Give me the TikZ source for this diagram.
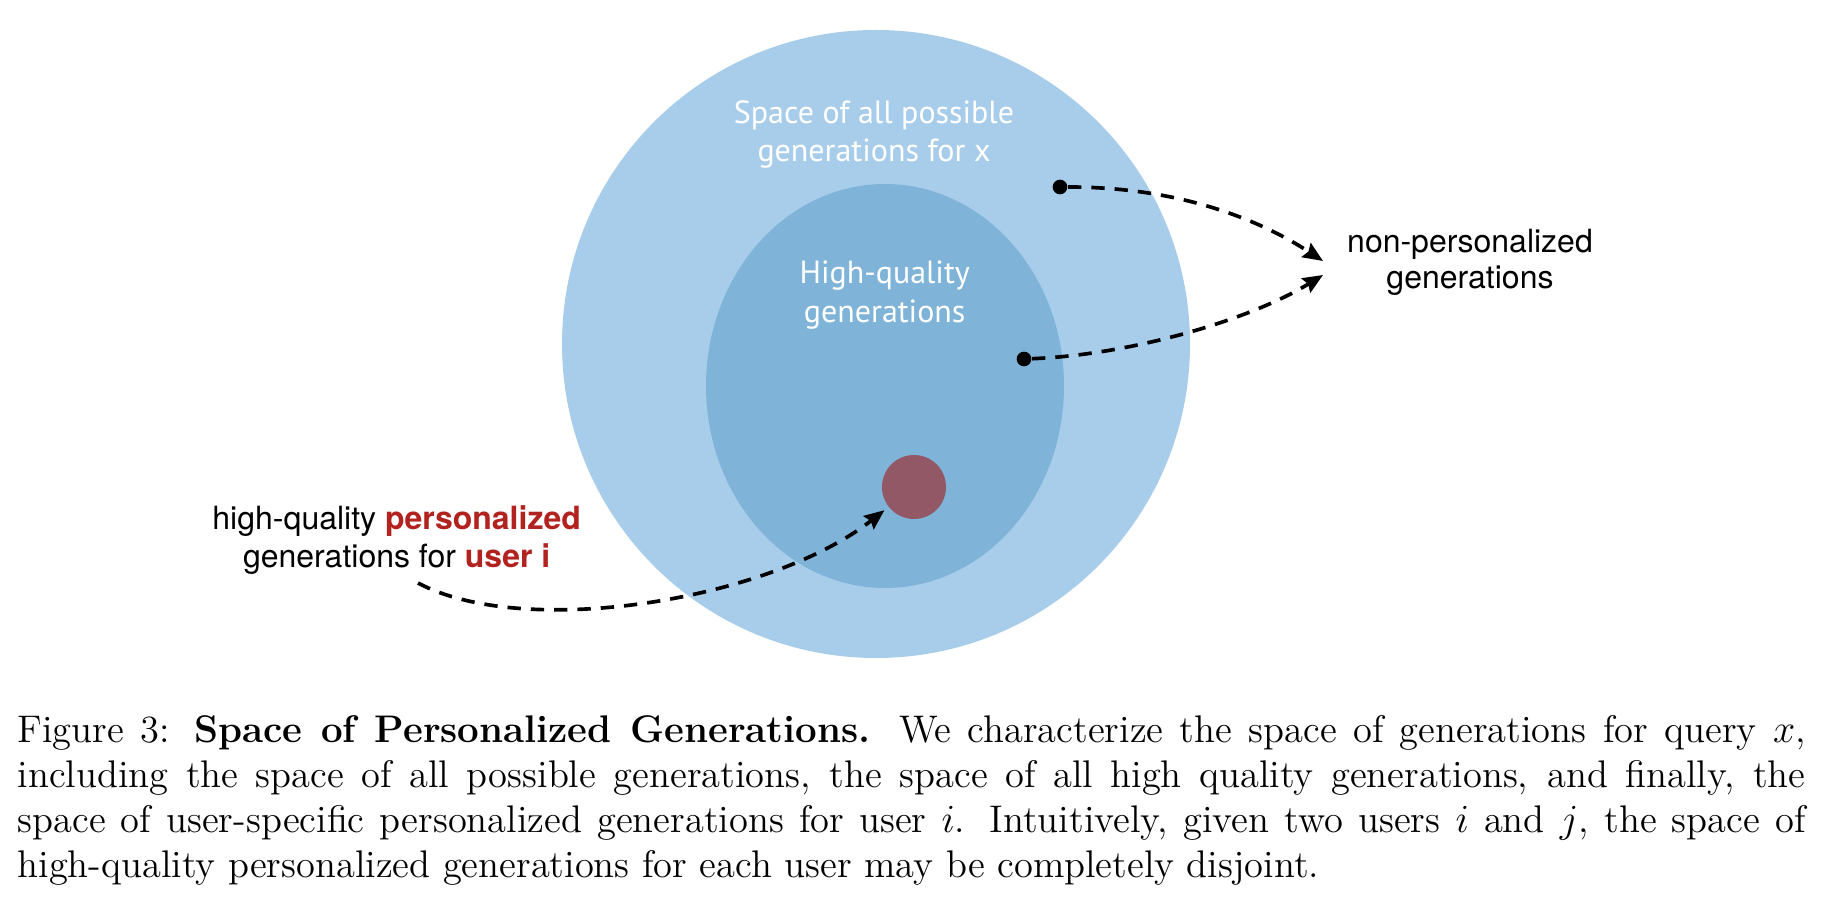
\documentclass[tikz,border=0pt]{standalone}
\usepackage{fontspec}
\newfontfamily\myriad{PT Sans}
\newfontfamily\helv{TeX Gyre Heros}
\usetikzlibrary{arrows.meta,shapes.geometric}
\definecolor{outerblue}{RGB}{168,205,235}
\definecolor{innerblue}{RGB}{127,179,216}
\definecolor{persred}{RGB}{147,88,102}
\definecolor{txtred}{RGB}{178,34,30}

\begin{document}
\begin{tikzpicture}[>={Stealth[length=6bp,width=5bp,inset=0.8bp]}, every node/.style={inner sep=0pt},
  inlbl/.style={anchor=base,text=white,font=\myriad\fontsize{9.6bp}{9.6bp}\selectfont},
  outlbl/.style={anchor=base,font=\helv\fontsize{9.6bp}{9.6bp}\selectfont},
  dot/.style={circle,fill=black,minimum size=4.4bp},
  dashto/.style={->,line width=1.1bp,dash pattern=on 4bp off 3bp}]
%%
  \useasboundingbox (0bp,0bp) rectangle (547.2bp,271.8bp);
  \node (all) at (262.8bp,168.6bp) [circle,fill=outerblue,minimum size=188.4bp] {};
  \node (hq) at (265.5bp,156.0bp) [ellipse,fill=innerblue,minimum width=107.4bp,minimum height=121.2bp] {};
  \node (pers) at (274.2bp,125.7bp) [circle,fill=persred,minimum size=19.2bp] {};
  \node (d1) at (318.0bp,215.7bp) [dot] {};
  \node (d2) at (307.2bp,164.1bp) [dot] {};
  \coordinate (np1) at (396.9bp,193.5bp);
  \coordinate (np2) at (396.9bp,189.3bp);
  \coordinate (hp) at (125.4bp,96.9bp);
  % labels
  \node (all1) at (262.2bp,234.6bp) [inlbl] {Space of all possible};
  \node (all2) at (262.2bp,223.2bp) [inlbl] {generations for x};
  \node (hq1) at (265.4bp,186.6bp) [inlbl] {High-quality};
  \node (hq2) at (265.4bp,174.9bp) [inlbl] {generations};
  \node (np1a) at (441.0bp,195.9bp) [outlbl] {non-personalized};
  \node (np1b) at (441.0bp,185.1bp) [outlbl] {generations};
  \node (hp1a) at (119.0bp,112.8bp) [outlbl] {high-quality \textcolor{txtred}{\bfseries personalized}};
  \node (hp1b) at (119.0bp,101.4bp) [outlbl] {generations for \textcolor{txtred}{\bfseries user i}};
  % arrows
  \draw [dashto] (d1) ..controls (354.0bp,215.7bp) and (378.0bp,205.8bp) .. (np1);
  \draw [dashto] (d2) ..controls (339.0bp,165.3bp) and (375.0bp,175.8bp) .. (np2);
  \draw [dashto,shorten >=1.5bp] (hp) ..controls (157.5bp,79.8bp) and (231.0bp,91.8bp) .. (pers);
  % caption
  \node (cap) at (5.1bp,49.0bp) [anchor=base west,text width=536.4bp,align=justify,
    font=\fontsize{11.55bp}{13.5bp}\selectfont] {Figure 3: \textbf{Space of Personalized Generations.} We characterize the space of generations for query $x$,\linebreak including the space of all possible generations, the space of all high quality generations, and finally, the\linebreak space of user-specific personalized generations for user $i$. Intuitively, given two users $i$ and $j$, the space of\linebreak high-quality personalized generations for each user may be completely disjoint.};
%
\end{tikzpicture}
\end{document}
